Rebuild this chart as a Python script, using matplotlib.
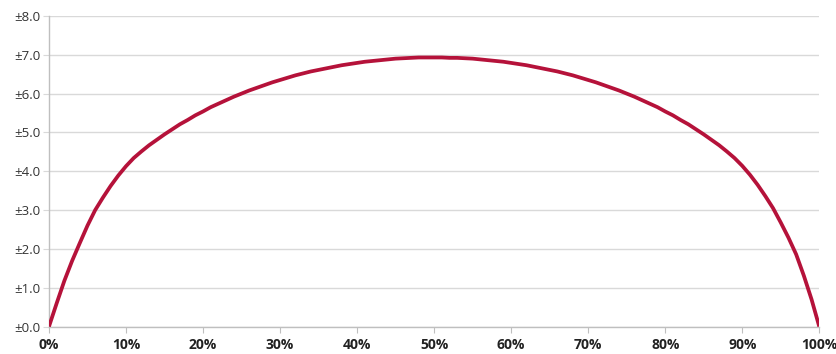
import matplotlib
matplotlib.use("Agg")
import matplotlib.pyplot as plt
from matplotlib.ticker import FuncFormatter

# Share of respondents (%)
pct = list(range(0, 101))
# Margin of error (± percentage points)
moe_0_to_50 = [0.00, 0.60, 1.18, 1.69, 2.15, 2.60, 3.00, 3.32, 3.62, 3.89,
               4.13, 4.34, 4.51, 4.67, 4.81, 4.95, 5.08, 5.21, 5.32, 5.44,
               5.54, 5.65, 5.74, 5.83, 5.92, 6.00, 6.08, 6.15, 6.22, 6.29,
               6.35, 6.41, 6.47, 6.52, 6.57, 6.61, 6.65, 6.69, 6.73, 6.76,
               6.79, 6.82, 6.84, 6.86, 6.88, 6.90, 6.91, 6.92, 6.93, 6.93,
               6.93]
moe_51_to_100 = [6.93, 6.92, 6.92, 6.91, 6.90, 6.88, 6.86, 6.84, 6.82, 6.79,
                 6.76, 6.73, 6.69, 6.65, 6.61, 6.57, 6.52, 6.47, 6.41, 6.35,
                 6.29, 6.22, 6.15, 6.08, 6.00, 5.92, 5.83, 5.74, 5.65, 5.54,
                 5.44, 5.32, 5.21, 5.08, 4.95, 4.81, 4.67, 4.51, 4.34, 4.14,
                 3.91, 3.65, 3.36, 3.05, 2.68, 2.29, 1.86, 1.31, 0.70, 0.00]
moe = moe_0_to_50 + moe_51_to_100

y_ticks = [0, 1, 2, 3, 4, 5, 6, 7, 8]
x_ticks = [0, 10, 20, 30, 40, 50, 60, 70, 80, 90, 100]

plt.rcParams['font.family'] = ['Open Sans', 'DejaVu Sans']

fig = plt.figure(figsize=(8.37, 3.54), dpi=100)
ax = fig.add_axes([0.0585, 0.0775, 0.9203, 0.8775])

ax.plot(pct, moe, color='#B5123A', linewidth=2.7, solid_joinstyle='round',
        solid_capstyle='butt', zorder=3)

ax.set_xlim(0, 100)
ax.set_ylim(0, 8)
ax.set_xticks(x_ticks)
ax.set_yticks(y_ticks)
ax.xaxis.set_major_formatter(FuncFormatter(lambda v, p: f"{int(v)}%"))
ax.yaxis.set_major_formatter(FuncFormatter(lambda v, p: f"±{v:.1f}"))

ax.grid(axis='y', color='#D9D9D9', linewidth=1.0, zorder=0)
ax.set_axisbelow(True)
for s in ['top', 'right']:
    ax.spines[s].set_visible(False)
for s in ['left', 'bottom']:
    ax.spines[s].set_color('#BFBFBF')
    ax.spines[s].set_linewidth(1.0)

ax.tick_params(axis='y', length=4, color='#D9D9D9', labelsize=9.5, labelcolor='#333333', pad=2)
ax.tick_params(axis='x', length=4, color='#BFBFBF', labelsize=10, labelcolor='#222222', pad=4)
for lab in ax.get_xticklabels():
    lab.set_fontweight('bold')

fig.savefig('out.png', dpi=100)
